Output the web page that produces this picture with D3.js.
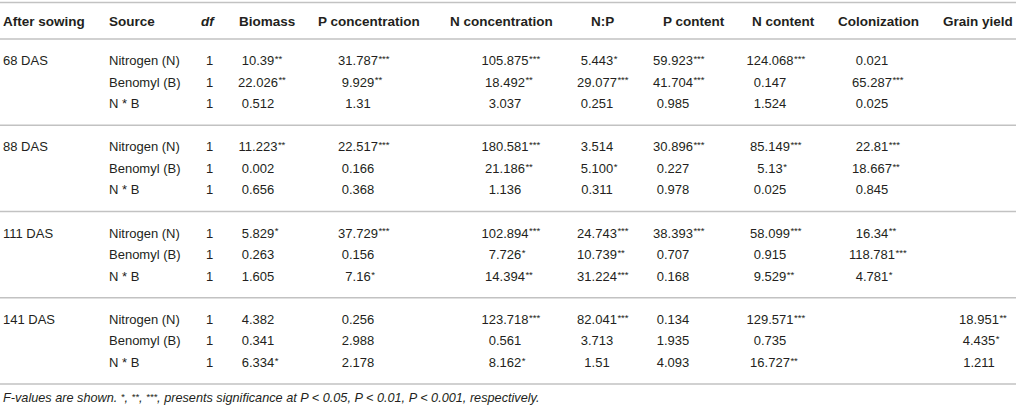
<!DOCTYPE html>
<html>
<head>
<meta charset="utf-8">
<script src="https://cdn.jsdelivr.net/npm/d3@7"></script>
<style>
	body { margin: 0; background: #fff; }
	svg { display: block; }
</style>
</head>
<body>
<div id="divTable"></div>
<script>
"use strict"

// table content
var timepoints = ["68 DAS", "88 DAS", "111 DAS", "141 DAS"];
var sources = ["Nitrogen (N)", "Benomyl (B)", "N * B"];
var columns = ["Biomass", "P concentration", "N concentration", "N:P", "P content", "N content", "Colonization", "Grain yield"];

// F-values, 12 rows each (4 sampling dates x 3 sources), stars = significance
var biomass = ["10.39**", "22.026**", "0.512", "11.223**", "0.002", "0.656", "5.829*", "0.263", "1.605", "4.382", "0.341", "6.334*"];
var pConc = ["31.787***", "9.929**", "1.31", "22.517***", "0.166", "0.368", "37.729***", "0.156", "7.16*", "0.256", "2.988", "2.178"];
var nConc = ["105.875***", "18.492**", "3.037", "180.581***", "21.186**", "1.136", "102.894***", "7.726*", "14.394**", "123.718***", "0.561", "8.162*"];
var npRatio = ["5.443*", "29.077***", "0.251", "3.514", "5.100*", "0.311", "24.743***", "10.739**", "31.224***", "82.041***", "3.713", "1.51"];
var pContent = ["59.923***", "41.704***", "0.985", "30.896***", "0.227", "0.978", "38.393***", "0.707", "0.168", "0.134", "1.935", "4.093"];
var nContent = ["124.068***", "0.147", "1.524", "85.149***", "5.13*", "0.025", "58.099***", "0.915", "9.529**", "129.571***", "0.735", "16.727**"];
var colonization = ["0.021", "65.287***", "0.025", "22.81***", "18.667**", "0.845", "16.34**", "118.781***", "4.781*", "", "", ""];
var grainYield = ["", "", "", "", "", "", "", "", "", "18.951**", "4.435*", "1.211"];
var dfValues = [1, 1, 1, 1, 1, 1, 1, 1, 1, 1, 1, 1];

// footnote pieces, stars set as superscript
var footnoteParts = ["F-values are shown. ", "*", ", ", "**", ", ", "***", ", presents significance at P < 0.05, P < 0.01, P < 0.001, respectively."];

//
// 
//
function FTable(sParentId) {
	this.sParentId = sParentId;
	this.nWidth = 1016;
	this.nHeight = 408;
	this.sFont = "'Liberation Sans', Arial, Helvetica, sans-serif";
	this.sInk = "#231f20";
	this.sRule = "#c2c2c2";
	this.fontSize = 13;
	this.series = [biomass, pConc, nConc, npRatio, pContent, nContent, colonization, grainYield];
	this.create();
}

FTable.prototype.create = function() {
	this.svg = d3.select("#" + this.sParentId)
		.append("svg")
		.attr("width", this.nWidth)
		.attr("height", this.nHeight)
		.style("font-family", this.sFont)
		;

	// header start positions / value centres per column
	this.xHead = d3.scaleOrdinal().domain(columns)
		.range([239, 318, 450, 591, 663, 752, 838, 943]);
	this.xCell = d3.scaleOrdinal().domain(columns)
		.range([258, 358, 505, 597, 673, 770, 872, 979]);
	// group rules
	this.yGroup = d3.scaleLinear().domain([0, timepoints.length]).range([39, 384]);
	this.rowPitch = (this.yGroup(1) - this.yGroup(0)) / 4;

	this.drawRules();
	this.drawHeader();
	this.drawBody();
	this.drawFootnote();
}

FTable.prototype.drawRules = function() {
	var ys = [2.5].concat(d3.range(timepoints.length + 1).map(this.yGroup));
	this.svg.append("g").selectAll("line")
		.data(ys)
		.join("line")
		.attr("x1", 0)
		.attr("x2", this.nWidth)
		.attr("y1", function(d) { return d; })
		.attr("y2", function(d) { return d; })
		.attr("stroke", this.sRule)
		.attr("stroke-width", 1.6)
		;
}

FTable.prototype.drawHeader = function() {
	var m_this = this;
	var yText = 21;
	var gh = this.svg.append("g")
		.attr("font-weight", "bold")
		.attr("font-size", 13.5)
		.attr("fill", this.sInk)
		;
	gh.append("text").attr("x", 3).attr("y", yText).attr("dy", "0.35em").text("After sowing");
	gh.append("text").attr("x", 109).attr("y", yText).attr("dy", "0.35em").text("Source");
	gh.append("text").attr("x", 201).attr("y", yText).attr("dy", "0.35em")
		.attr("font-style", "italic")
		.text("df")
		;
	gh.selectAll("text.col")
		.data(columns)
		.join("text")
		.attr("class", "col")
		.attr("x", function(d) { return m_this.xHead(d); })
		.attr("y", yText)
		.attr("dy", "0.35em")
		.text(function(d) { return d; })
		;
}

FTable.prototype.rowY = function(i) {
	var g = Math.floor(i / sources.length);
	var r = i % sources.length;
	return this.yGroup(g) + this.rowPitch * (r + 1);
}

FTable.prototype.drawBody = function() {
	var m_this = this;
	var gb = this.svg.append("g")
		.attr("font-size", this.fontSize)
		.attr("fill", this.sInk)
		;
	// sampling date labels
	gb.selectAll("text.date")
		.data(timepoints)
		.join("text")
		.attr("class", "date")
		.attr("x", 3)
		.attr("y", function(d, i) { return m_this.rowY(i * sources.length); })
		.attr("dy", "0.35em")
		.text(function(d) { return d; })
		;
	// sources and df
	var rows = d3.range(timepoints.length * sources.length);
	gb.selectAll("text.src")
		.data(rows)
		.join("text")
		.attr("class", "src")
		.attr("x", 109)
		.attr("y", function(i) { return m_this.rowY(i); })
		.attr("dy", "0.35em")
		.text(function(i) { return sources[i % sources.length]; })
		;
	gb.selectAll("text.df")
		.data(dfValues)
		.join("text")
		.attr("class", "df")
		.attr("x", 209.5)
		.attr("y", function(d, i) { return m_this.rowY(i); })
		.attr("dy", "0.35em")
		.attr("text-anchor", "middle")
		.text(function(d) { return d; })
		;
	// F-values: number centred, stars hang to the right as superscript
	columns.forEach(function(col, c) {
		var vals = m_this.series[c];
		vals.forEach(function(s, i) {
			if (s == "") return;
			var num = s.replace(/\*+$/, "");
			var stars = s.slice(num.length);
			var x = m_this.xCell(col);
			var y = m_this.rowY(i);
			var t = gb.append("text")
				.attr("x", x)
				.attr("y", y)
				.attr("dy", "0.35em")
				.attr("text-anchor", "middle")
				.text(num)
				;
			if (stars) {
				var w = t.node().getComputedTextLength();
				gb.append("text")
					.attr("x", x + w / 2 + 0.5)
					.attr("y", y - 2)
					.attr("dy", "0.35em")
					.attr("font-size", 9.5)
					.text(stars)
					;
			}
		});
	});
}

FTable.prototype.drawFootnote = function() {
	var t = this.svg.append("text")
		.attr("x", 3)
		.attr("y", 398)
		.attr("dy", "0.35em")
		.attr("font-size", 12.7)
		.attr("font-style", "italic")
		.attr("fill", this.sInk)
		;
	t.selectAll("tspan")
		.data(footnoteParts)
		.join("tspan")
		.attr("font-size", function(d) { return d.charAt(0) == "*" ? 9.5 : null; })
		.attr("dy", function(d, i) {
			if (d.charAt(0) == "*") return -2;
			return (i > 0 && footnoteParts[i - 1].charAt(0) == "*") ? 2 : null;
		})
		.text(function(d) { return d; })
		;
}

var m_FTable = new FTable("divTable");
</script>
</body>
</html>
